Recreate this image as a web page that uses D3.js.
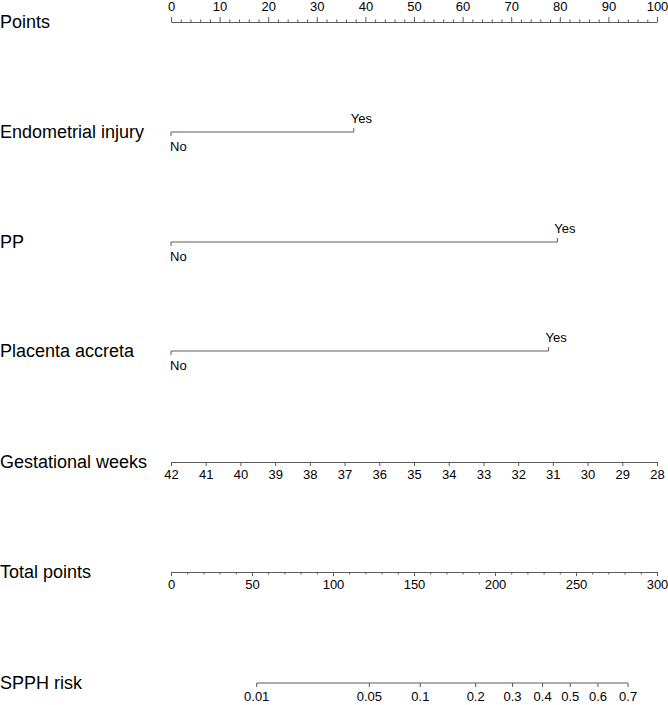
<!DOCTYPE html>
<html>
<head>
<meta charset="utf-8">
<script src="https://cdn.jsdelivr.net/npm/d3@7"></script>
<style>
  body { margin: 0; background: #fff; }
  svg text { font-family: "Liberation Sans", Arial, sans-serif; fill: #000; }
  .axis path, .axis line { stroke: #5a5a5a; }
  .axis text { font-size: 13px; }
</style>
</head>
<body>
<div id="chart"></div>
<script>
// nomogram values
var predictors = ["Endometrial injury", "PP", "Placenta accreta"];
var predictorPoints = [37.6, 79.5, 77.7];   // points for "Yes" (No = 0)
var levelLow = "No", levelHigh = "Yes";

var pointsTicks = [0, 10, 20, 30, 40, 50, 60, 70, 80, 90, 100];
var pointsMinor = [2, 4, 6, 8, 12, 14, 16, 18, 22, 24, 26, 28, 32, 34, 36, 38, 42, 44, 46, 48,
                   52, 54, 56, 58, 62, 64, 66, 68, 72, 74, 76, 78, 82, 84, 86, 88, 92, 94, 96, 98];
var weekTicks = [42, 41, 40, 39, 38, 37, 36, 35, 34, 33, 32, 31, 30, 29, 28];
var totalTicks = [0, 50, 100, 150, 200, 250, 300];
var totalMinor = [10, 20, 30, 40, 60, 70, 80, 90, 110, 120, 130, 140, 160, 170, 180, 190,
                  210, 220, 230, 240, 260, 270, 280, 290];
var riskTicks = [0.01, 0.05, 0.1, 0.2, 0.3, 0.4, 0.5, 0.6, 0.7];
// logistic model linking total points to risk
var intercept = -5.851, slope = 0.02374;

var width = 668, height = 705;
var x0 = 171, x1 = 657;

var svg = d3.select("#chart").append("svg")
    .attr("width", width)
    .attr("height", height);

var xPoints = d3.scaleLinear().domain([0, 100]).range([x0, x1]);
var xWeeks = d3.scaleLinear().domain([42, 28]).range([x0, x1]);
var xTotal = d3.scaleLinear().domain([0, 300]).range([x0, x1]);
function riskX(p) {
    var lp = Math.log(p / (1 - p));
    return xTotal((lp - intercept) / slope);
}

var rowY = { points: 22, pred: [132, 242, 351], weeks: 462, total: 572, risk: 683 };
var labelSize = "18px";

function rowLabel(txt, y) {
    svg.append("text")
        .attr("x", 0)
        .attr("y", y)
        .attr("dy", "0.35em")
        .style("font-size", labelSize)
        .text(txt);
}

// Points
rowLabel("Points", rowY.points);
svg.append("g").attr("class", "axis")
    .attr("transform", "translate(0," + rowY.points + ")")
    .call(d3.axisTop(xPoints).tickValues(pointsTicks).tickSize(5).tickSizeOuter(0).tickPadding(6));
svg.append("g").attr("class", "axis")
    .attr("transform", "translate(0," + rowY.points + ")")
    .call(d3.axisTop(xPoints).tickValues(pointsMinor).tickSize(2.5).tickSizeOuter(0).tickFormat(""))
    .select(".domain").remove();

// binary predictors
predictors.forEach(function (name, i) {
    var y = rowY.pred[i];
    rowLabel(name, y);
    var g = svg.append("g").attr("class", "axis");
    g.append("line")
        .attr("x1", xPoints(0)).attr("x2", xPoints(predictorPoints[i]))
        .attr("y1", y).attr("y2", y);
    g.append("line")
        .attr("x1", xPoints(0)).attr("x2", xPoints(0))
        .attr("y1", y).attr("y2", y + 4);
    g.append("line")
        .attr("x1", xPoints(predictorPoints[i])).attr("x2", xPoints(predictorPoints[i]))
        .attr("y1", y).attr("y2", y - 4);
    g.append("text")
        .attr("x", xPoints(0) - 1)
        .attr("y", y + 14)
        .attr("dy", "0.35em")
        .text(levelLow);
    g.append("text")
        .attr("x", xPoints(predictorPoints[i]) - 3)
        .attr("y", y - 14)
        .attr("dy", "0.35em")
        .text(levelHigh);
});

// Gestational weeks
rowLabel("Gestational weeks", rowY.weeks);
svg.append("g").attr("class", "axis")
    .attr("transform", "translate(0," + rowY.weeks + ")")
    .call(d3.axisBottom(xWeeks).tickValues(weekTicks).tickSize(4).tickSizeOuter(0).tickPadding(4));

// Total points
rowLabel("Total points", rowY.total);
svg.append("g").attr("class", "axis")
    .attr("transform", "translate(0," + rowY.total + ")")
    .call(d3.axisBottom(xTotal).tickValues(totalTicks).tickSize(4).tickSizeOuter(0).tickPadding(4));
svg.append("g").attr("class", "axis")
    .attr("transform", "translate(0," + rowY.total + ")")
    .call(d3.axisBottom(xTotal).tickValues(totalMinor).tickSize(2.5).tickSizeOuter(0).tickFormat(""))
    .select(".domain").remove();

// SPPH risk
rowLabel("SPPH risk", rowY.risk);
var gr = svg.append("g").attr("class", "axis")
    .attr("transform", "translate(0," + rowY.risk + ")");
gr.append("line")
    .attr("x1", riskX(riskTicks[0])).attr("x2", riskX(riskTicks[riskTicks.length - 1]))
    .attr("y1", 0).attr("y2", 0);
var rt = gr.selectAll(".rtick").data(riskTicks).enter().append("g")
    .attr("class", "rtick")
    .attr("transform", function (d) { return "translate(" + riskX(d) + ",0)"; });
rt.append("line").attr("y2", 4);
rt.append("text")
    .attr("y", 13)
    .attr("dy", "0.35em")
    .attr("text-anchor", "middle")
    .text(function (d) { return d; });
</script>
</body>
</html>
